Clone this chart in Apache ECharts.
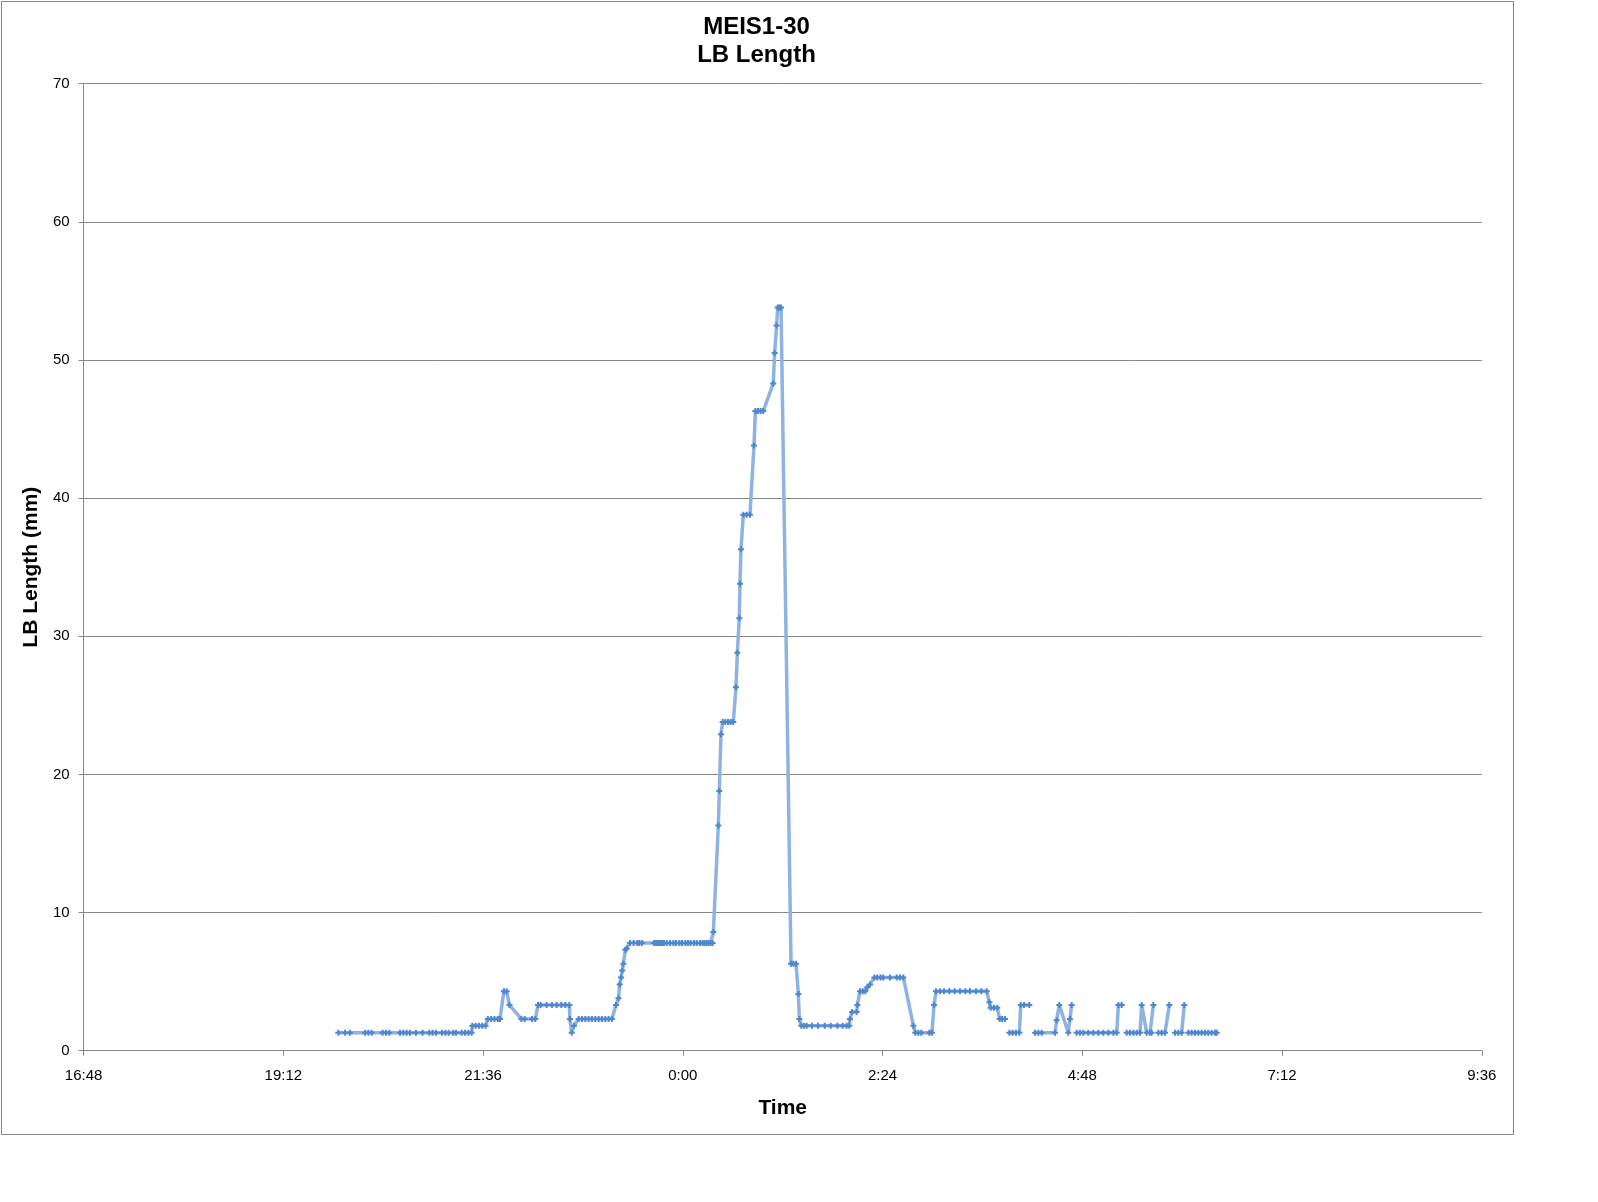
<!DOCTYPE html>
<html>
<head>
<meta charset="utf-8">
<script src="https://cdn.jsdelivr.net/npm/echarts@6/dist/echarts.min.js"></script>
<style>
html,body{margin:0;padding:0;background:#fff;}
#chart{width:1598px;height:1202px;}
</style>
</head>
<body>
<div id="chart"></div>
<script>
// Time axis: minutes after 16:48 (axis runs 16:48 -> 9:36 next day)
const tickLabels = ['16:48', '19:12', '21:36', '0:00', '2:24', '4:48', '7:12', '9:36'];
const titleLines = ['MEIS1-30', 'LB Length'];

// sample times (minutes after 16:48); null values in lbLength are gaps in the record
const timeMin = [
  183.6,188.5,192.0,202.9,205.3,207.7,215.6,218.0,220.4,228.1,230.5,232.9,235.3,239.6,244.4,249.2,251.6,254.0,258.4,260.8,263.2,266.5,268.5,272.6,275.0,277.4,279.8,
  280.2,282.6,285.0,287.4,289.8,
  291.4,293.8,296.2,298.6,300.2,
  303.0,305.0,
  307.0,
  315.6,318.0,323.3,325.7,
  327.6,329.5,333.8,337.7,341.0,344.4,347.3,350.2,
  350.6,351.9,353.5,
  356.9,359.3,361.7,364.1,366.5,368.9,371.3,373.7,376.1,378.5,380.9,
  383.8,385.6,386.5,387.5,388.3,389.1,390.6,391.5,
  393.9,396.5,399.2,400.6,402.6,
  411.2,412.7,414.1,415.5,417.0,418.4,420.4,
  422.8,425.2,427.1,429.5,431.4,433.8,435.7,437.6,440.0,442.0,
  444.4,446.3,447.7,449.2,450.6,452.1,453.5,
  454.0,457.6,458.3,459.5,
  460.7,462.6,464.6,466.5,468.4,
  470.3,471.3,472.7,473.2,473.9,
  475.6,478.0,480.4,
  483.3,
  484.3,486.2,488.1,490.0,
  497.2,498.2,499.6,
  500.4,501.6,502.8,
  510.0,511.7,513.6,
  515.3,516.0,
  517.4,519.4,521.3,525.1,529.5,534.3,538.6,543.4,547.2,550.1,552.0,
  552.5,554.0,557.3,557.8,
  559.7,561.7,563.6,565.0,566.9,
  570.1,572.2,574.6,576.5,581.4,586.2,588.6,591.0,
  598.2,599.6,601.8,603.9,609.7,611.6,
  613.1,
  614.5,617.4,620.3,624.1,628.0,631.8,635.7,639.0,643.4,647.2,651.1,
  653.0,653.9,656.3,658.7,
  660.4,662.2,664.3,
  666.0,
  667.4,669.8,672.2,674.6,
  675.6,678.0,681.8,
  683.8,
  685.9,688.3,690.7,700.3,
  701.5,703.4,
  709.9,711.1,712.3,
  714.0,
  715.9,718.3,720.7,724.3,727.9,731.5,735.1,738.8,742.4,744.8,
  746.0,748.4,
  750.2,
  752.0,754.4,756.8,759.2,761.6,
  762.8,
  766.4,768.8,770.0,
  771.2,
  773.0,
  774.8,777.2,779.6,
  782.7,
  784.8,
  786.8,789.2,791.6,
  793.5,
  795.0,
  796.4,798.8,801.2,803.6,806.0,808.4,810.8,813.2,815.7,816.9
];

// LB length (mm)
const lbLength = [
  1.3,1.3,1.3,1.3,1.3,1.3,1.3,1.3,1.3,1.3,1.3,1.3,1.3,1.3,1.3,1.3,1.3,1.3,1.3,1.3,1.3,1.3,1.3,1.3,1.3,1.3,1.3,
  1.8,1.8,1.8,1.8,1.8,
  2.3,2.3,2.3,2.3,2.3,
  4.3,4.3,
  3.3,
  2.3,2.3,2.3,2.3,
  3.3,3.3,3.3,3.3,3.3,3.3,3.3,3.3,
  2.3,1.3,1.8,
  2.3,2.3,2.3,2.3,2.3,2.3,2.3,2.3,2.3,2.3,2.3,
  3.3,3.8,4.8,5.3,5.8,6.3,7.3,7.4,
  7.8,7.8,7.8,7.8,7.8,
  7.8,7.8,7.8,7.8,7.8,7.8,7.8,
  7.8,7.8,7.8,7.8,7.8,7.8,7.8,7.8,7.8,7.8,
  7.8,7.8,7.8,7.8,7.8,7.8,7.8,
  8.6,16.3,18.8,22.9,
  23.8,23.8,23.8,23.8,23.8,
  26.3,28.8,31.3,33.8,36.3,
  38.8,38.8,38.8,
  43.8,
  46.3,46.3,46.3,46.3,
  48.3,50.5,52.5,
  53.8,53.8,53.8,
  6.3,6.3,6.3,
  4.1,2.3,
  1.8,1.8,1.8,1.8,1.8,1.8,1.8,1.8,1.8,1.8,1.8,
  2.3,2.8,2.8,3.3,
  4.3,4.3,4.3,4.6,4.8,
  5.3,5.3,5.3,5.3,5.3,5.3,5.3,5.3,
  1.8,1.3,1.3,1.3,1.3,1.3,
  3.3,
  4.3,4.3,4.3,4.3,4.3,4.3,4.3,4.3,4.3,4.3,4.3,
  3.5,3.1,3.1,3.1,
  2.3,2.3,2.3,
  null,
  1.3,1.3,1.3,1.3,
  3.3,3.3,3.3,
  null,
  1.3,1.3,1.3,1.3,
  2.2,3.3,
  1.3,2.3,3.3,
  null,
  1.3,1.3,1.3,1.3,1.3,1.3,1.3,1.3,1.3,1.3,
  3.3,3.3,
  null,
  1.3,1.3,1.3,1.3,1.3,
  3.3,
  1.3,1.3,1.3,
  3.3,
  null,
  1.3,1.3,1.3,
  3.3,
  null,
  1.3,1.3,1.3,
  3.3,
  null,
  1.3,1.3,1.3,1.3,1.3,1.3,1.3,1.3,1.3,1.3
];

const seriesData = timeMin.map((t, i) => [t, lbLength[i]]);

const FONT = "'Liberation Sans', Arial, sans-serif";
const GRAY = '#868686';

const chart = echarts.init(document.getElementById('chart'), null, {renderer: 'canvas'});
chart.setOption({
  animation: false,
  backgroundColor: '#ffffff',
  textStyle: {fontFamily: FONT},
  graphic: [
    {type: 'rect', silent: true, shape: {x: 1.5, y: 1.5, width: 1512, height: 1133},
     style: {fill: 'none', stroke: GRAY, lineWidth: 1}},
    {type: 'text', silent: true, x: 756.5, y: 27.5,
     style: {text: titleLines[0], fill: '#000', font: 'bold 24px ' + FONT, textAlign: 'center', textVerticalAlign: 'middle'}},
    {type: 'text', silent: true, x: 756.5, y: 55,
     style: {text: titleLines[1], fill: '#000', font: 'bold 24px ' + FONT, textAlign: 'center', textVerticalAlign: 'middle'}}
  ],
  grid: {left: 83.6, right: 116.2, top: 83.6, bottom: 151.3, containLabel: false, outerBoundsMode: 'none'},
  xAxis: {
    type: 'value', min: 0, max: 1008, interval: 144,
    name: 'Time', nameLocation: 'middle', nameGap: 47,
    nameTextStyle: {fontSize: 21, fontWeight: 'bold', color: '#000', fontFamily: FONT},
    axisLine: {show: true, lineStyle: {color: GRAY, width: 1}},
    axisTick: {show: true, length: 5, lineStyle: {color: GRAY}},
    axisLabel: {margin: 18, fontSize: 15, color: '#000', fontFamily: FONT,
      formatter: v => tickLabels[Math.round(v / 144)]},
    splitLine: {show: false}
  },
  yAxis: {
    type: 'value', min: 0, max: 70, interval: 10,
    name: 'LB Length (mm)', nameLocation: 'middle', nameGap: 40, nameRotate: 90,
    nameTextStyle: {fontSize: 21, fontWeight: 'bold', color: '#000', fontFamily: FONT},
    axisLine: {show: true, lineStyle: {color: GRAY, width: 1}},
    axisTick: {show: true, length: 5, lineStyle: {color: GRAY}},
    axisLabel: {margin: 14, fontSize: 15, color: '#000', fontFamily: FONT},
    splitLine: {show: true, lineStyle: {color: GRAY, width: 1}}
  },
  series: [{
    type: 'line',
    data: seriesData,
    connectNulls: false,
    showAllSymbol: true,
    symbol: 'path://M2,0H4V2H6V4H4V6H2V4H0V2H2Z',
    symbolSize: 6,
    itemStyle: {color: '#4f86d0'},
    lineStyle: {color: '#8db3e2', width: 3.5},
    emphasis: {disabled: true}
  }]
});
</script>
</body>
</html>
